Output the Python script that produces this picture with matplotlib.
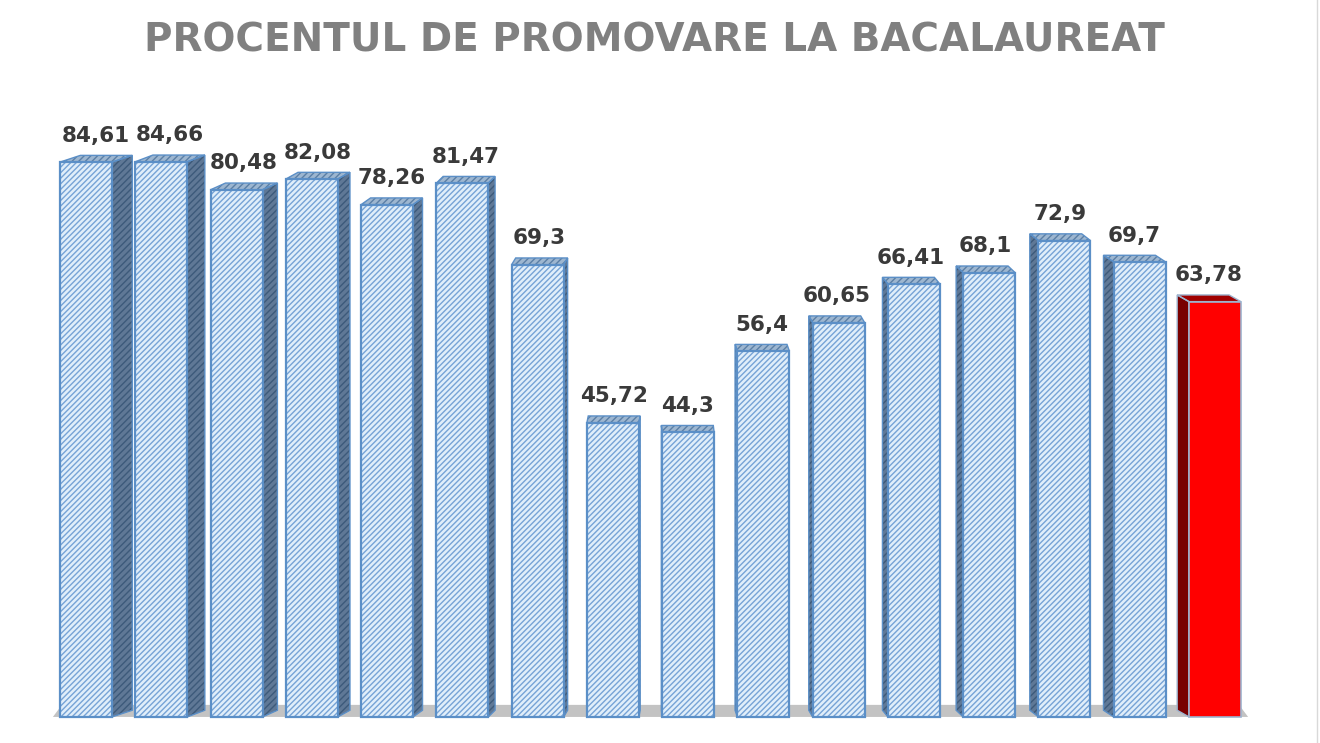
import matplotlib
matplotlib.use("Agg")
import matplotlib.pyplot as plt
from matplotlib.patches import Polygon
import numpy as np

plt.rcParams['font.family'] = ['DejaVu Sans']
plt.rcParams['hatch.linewidth'] = 1.0

title = "PROCENTUL DE PROMOVARE LA BACALAUREAT"
values = [84.61, 84.66, 80.48, 82.08, 78.26, 81.47, 69.3, 45.72, 44.3,
          56.4, 60.65, 66.41, 68.1, 72.9, 69.7, 63.78]
labels = ["84,61", "84,66", "80,48", "82,08", "78,26", "81,47", "69,3", "45,72",
          "44,3", "56,4", "60,65", "66,41", "68,1", "72,9", "69,7", "63,78"]
highlight = [False] * 15 + [True]

fig = plt.figure(figsize=(13.2, 7.43), dpi=100)
fig.patch.set_facecolor("white")
ax = fig.add_axes([0, 0, 1, 1])
ax.set_axis_off()

n = len(values)
x = np.arange(n)
x0_px, x1_px = 86, 1215
pitch_px = (x1_px - x0_px) / (n - 1)
ax.set_xlim(-x0_px / pitch_px, (1320 - x0_px) / pitch_px)
ax.set_ylim(-2.09, 108.8)

base = 1.8
w = 0.69
d = 1.0          # depth offset (vertical, data units)
mid = 7.5

# floor
fl = Polygon([(-0.44, base), (x[-1] + 0.44, base), (x[-1] + 0.32, base + 1.8),
              (-0.32, base + 1.8)], closed=True, facecolor="#c3c3c3",
              edgecolor="none", zorder=1)
ax.add_patch(fl)

for i, v in enumerate(values):
    s = 0.036 * (mid - i) if i < mid else 0.021 * (mid - i)
    red = highlight[i]
    xl, xr = x[i] - w / 2, x[i] + w / 2
    if red:
        fc, hc, sc, tc, ec = "#ff0000", None, "#780000", "#a00000", "#9db4cf"
    else:
        fc, hc, sc, tc, ec = "#e0eefa", "#76a3d6", "#5f7896", "#9db6d0", "#5b8fc7"
    # side face
    if s >= 0:
        side = [(xr, base), (xr + s, base + d), (xr + s, v + d), (xr, v)]
    else:
        side = [(xl, base), (xl + s, base + d), (xl + s, v + d), (xl, v)]
    ax.add_patch(Polygon(side, closed=True, facecolor=sc,
                         edgecolor=("#3d5a7a" if not red else "#5a0000"),
                         hatch=(None if red else "/////"), lw=0.0, zorder=2))
    ax.add_patch(Polygon(side, closed=True, facecolor="none",
                         edgecolor=ec, lw=1.0, zorder=2.1))
    # top face
    top = [(xl, v), (xr, v), (xr + s, v + d), (xl + s, v + d)]
    ax.add_patch(Polygon(top, closed=True, facecolor=tc,
                         edgecolor=("#5b7fa6" if not red else tc),
                         hatch=(None if red else "/////"), lw=0.0, zorder=2))
    ax.add_patch(Polygon(top, closed=True, facecolor="none",
                         edgecolor=ec, lw=1.0, zorder=2.1))
    # front face
    if red:
        ax.bar(x[i], v - base, bottom=base, width=w, color=fc,
               edgecolor=ec, linewidth=1.2, zorder=3)
    else:
        ax.bar(x[i], v - base, bottom=base, width=w, color=fc,
               edgecolor=hc, hatch="//////", linewidth=0, zorder=3)
        ax.bar(x[i], v - base, bottom=base, width=w, color="none",
               edgecolor=ec, linewidth=1.6, zorder=3.1)
    ax.annotate(labels[i], (x[i] + s / 2, v + d), xytext=(0, 7),
                textcoords="offset points", ha="center", va="bottom",
                fontsize=15.5, fontweight="bold", color="#3a3a3a", zorder=5)

fig.text(0.496, 1 - 40 / 743, title, ha="center", va="center",
         fontsize=28, fontweight="bold", color="#808080")

# right border line
fig.add_artist(plt.Line2D([1317 / 1320, 1317 / 1320], [0, 1],
                          transform=fig.transFigure, color="#d9d9d9", lw=1))

fig.savefig("out.png", dpi=100)
